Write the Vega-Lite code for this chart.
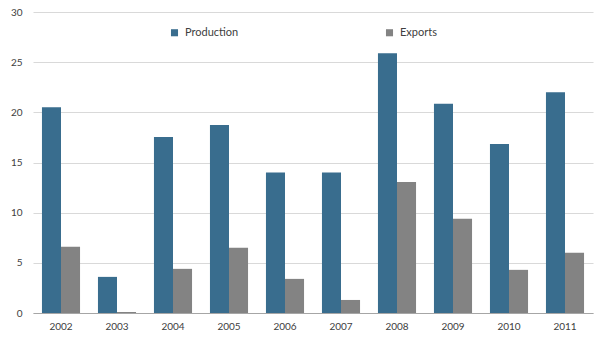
{
  "$schema": "https://vega.github.io/schema/vega-lite/v6.json",
  "width": 560,
  "height": 301,
  "autosize": {"type": "none"},
  "padding": {"left": 33, "top": 12, "right": 12, "bottom": 27},
  "background": "white",
  "config": {
    "view": {"stroke": null},
    "font": "Lato",
    "axis": {"labelFont": "Lato", "labelFontSize": 10, "labelColor": "#404040"},
    "legend": {"labelFont": "Lato", "labelFontSize": 11, "labelColor": "#404040"}
  },
  "data": {
    "values": [
      {"year": "2002", "series": "Production", "value": 20.5},
      {"year": "2002", "series": "Exports", "value": 6.6},
      {"year": "2003", "series": "Production", "value": 3.6},
      {"year": "2003", "series": "Exports", "value": 0.1},
      {"year": "2004", "series": "Production", "value": 17.55},
      {"year": "2004", "series": "Exports", "value": 4.4},
      {"year": "2005", "series": "Production", "value": 18.75},
      {"year": "2005", "series": "Exports", "value": 6.5},
      {"year": "2006", "series": "Production", "value": 14.0},
      {"year": "2006", "series": "Exports", "value": 3.4},
      {"year": "2007", "series": "Production", "value": 14.0},
      {"year": "2007", "series": "Exports", "value": 1.3},
      {"year": "2008", "series": "Production", "value": 25.9},
      {"year": "2008", "series": "Exports", "value": 13.05},
      {"year": "2009", "series": "Production", "value": 20.85},
      {"year": "2009", "series": "Exports", "value": 9.4},
      {"year": "2010", "series": "Production", "value": 16.85},
      {"year": "2010", "series": "Exports", "value": 4.3},
      {"year": "2011", "series": "Production", "value": 22.0},
      {"year": "2011", "series": "Exports", "value": 6.0}
    ]
  },
  "mark": {"type": "bar"},
  "encoding": {
    "x": {
      "field": "year", "type": "nominal", "title": null,
      "scale": {"paddingInner": 0.32, "paddingOuter": 0.16},
      "axis": {"labelAngle": 0, "ticks": false, "domainColor": "#a6a6a6", "labelPadding": 8, "grid": false}
    },
    "xOffset": {"field": "series", "type": "nominal", "sort": ["Production", "Exports"], "scale": {"paddingInner": 0, "paddingOuter": 0}},
    "y": {
      "field": "value", "type": "quantitative", "title": null,
      "scale": {"domain": [0, 30], "nice": false},
      "axis": {"values": [0, 5, 10, 15, 20, 25, 30], "domain": false, "ticks": false, "gridColor": "#d9d9d9", "labelPadding": 11}
    },
    "color": {
      "field": "series", "type": "nominal",
      "scale": {"domain": ["Production", "Exports"], "range": ["#396d8e", "#838383"]},
      "legend": {
        "title": null, "orient": "none", "direction": "horizontal", "columns": 2,
        "legendX": 136, "legendY": 15, "symbolType": "square", "symbolSize": 50,
        "columnPadding": 145, "labelOffset": 5
      }
    }
  }
}
